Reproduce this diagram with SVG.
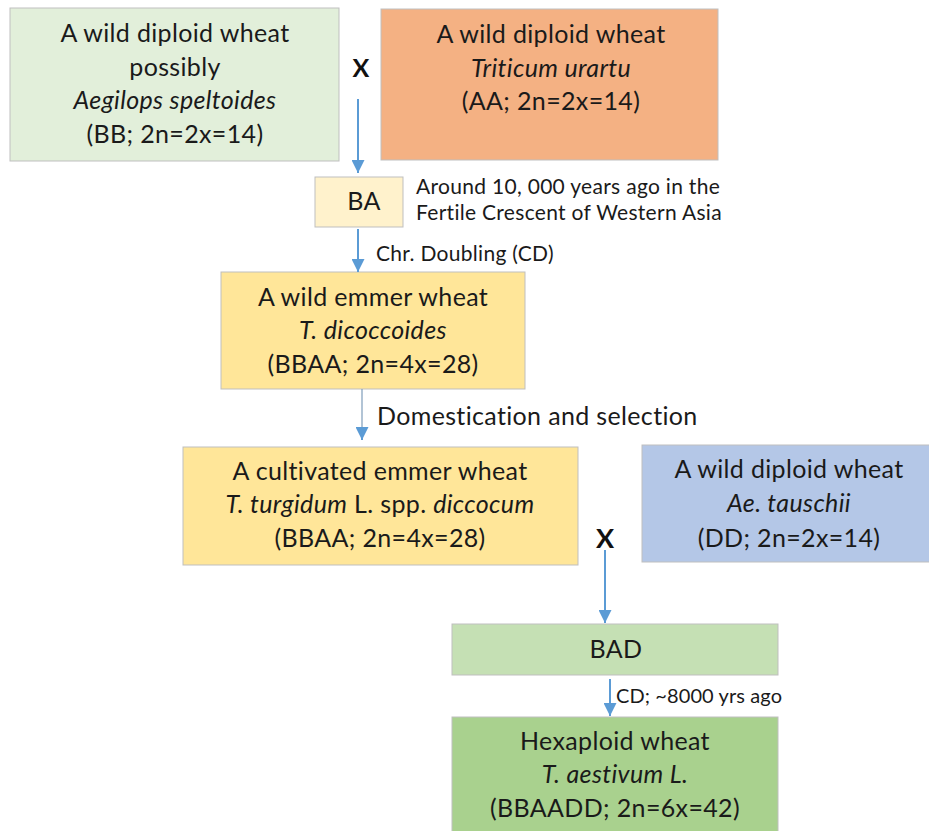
<svg xmlns="http://www.w3.org/2000/svg" width="929" height="831" viewBox="0 0 929 831">
<defs>
<marker id="ah" viewBox="0 0 10 10" refX="10" refY="5" markerWidth="13" markerHeight="13" markerUnits="userSpaceOnUse" orient="auto">
<path d="M0,0 L10,5 L0,10 Z" fill="#5B9BD5"/>
</marker>
<style>
.box{stroke:#BFBFBF;stroke-width:1}
.t{font-family:Lato,"Liberation Sans",sans-serif;font-size:25px;letter-spacing:0.35px;fill:#1a1a1a;text-anchor:middle}
.s{font-family:Lato,"Liberation Sans",sans-serif;font-size:21px;letter-spacing:0.3px;fill:#1a1a1a}
.l{font-family:Lato,"Liberation Sans",sans-serif;font-size:25px;letter-spacing:0.35px;fill:#1a1a1a}
.x{font-family:Lato,"Liberation Sans",sans-serif;font-weight:bold;fill:#111;text-anchor:middle}
.c{stroke:#5B9BD5;stroke-width:2;fill:none}
.i{font-style:italic}
</style>
</defs>
<rect width="929" height="831" fill="#FFFFFF"/>
<g id="node-speltoides">
<rect class="box" x="10" y="8" width="329" height="153" fill="#E2EFDA"/>
<text class="t" x="175" y="42">A wild diploid wheat</text>
<text class="t" x="175" y="75.5">possibly</text>
<text class="t i" x="175" y="109">Aegilops speltoides</text>
<text class="t" x="175" y="142.5">(BB; 2n=2x=14)</text>
</g>
<g id="node-urartu">
<rect class="box" x="381" y="9" width="337" height="151" fill="#F4B183"/>
<text class="t" x="551" y="43">A wild diploid wheat</text>
<text class="t i" x="551" y="77">Triticum urartu</text>
<text class="t" x="551" y="110">(AA; 2n=2x=14)</text>
</g>
<g id="cross-1"><text class="x" x="361" y="77" font-size="25">X</text></g>
<g id="node-BA">
<rect class="box" x="315" y="177" width="88" height="50" fill="#FFF2CC"/>
<text class="t" x="364" y="210">BA</text>
</g>
<g id="note-origin">
<text class="s" x="416" y="194">Around 10, 000 years ago in the</text>
<text class="s" x="416" y="220">Fertile Crescent of Western Asia</text>
</g>
<g id="node-dicoccoides">
<rect class="box" x="221" y="272" width="304" height="117" fill="#FFE699"/>
<text class="t" x="373" y="306">A wild emmer wheat</text>
<text class="t i" x="373" y="339">T. dicoccoides</text>
<text class="t" x="373" y="373">(BBAA; 2n=4x=28)</text>
</g>
<g id="node-diccocum">
<rect class="box" x="183" y="447" width="395" height="118" fill="#FFE699"/>
<text class="t" x="380" y="480">A cultivated emmer wheat</text>
<text class="t" x="380" y="513"><tspan class="i">T. turgidum</tspan> L. spp. <tspan class="i">diccocum</tspan></text>
<text class="t" x="380" y="547">(BBAA; 2n=4x=28)</text>
</g>
<g id="node-tauschii">
<rect class="box" x="642" y="445" width="300" height="117" fill="#B4C7E7"/>
<text class="t" x="789" y="478">A wild diploid wheat</text>
<text class="t i" x="789" y="512">Ae. tauschii</text>
<text class="t" x="789" y="547">(DD; 2n=2x=14)</text>
</g>
<g id="cross-2"><text class="x" x="605" y="548" font-size="27">X</text></g>
<g id="node-BAD">
<rect class="box" x="452" y="624" width="326" height="51" fill="#C5E0B4"/>
<text class="t" x="616" y="658">BAD</text>
</g>
<g id="node-aestivum">
<rect class="box" x="452" y="717" width="326" height="124" fill="#A9D18E"/>
<text class="t" x="615" y="750">Hexaploid wheat</text>
<text class="t i" x="615" y="783">T. aestivum L.</text>
<text class="t" x="615" y="817">(BBAADD; 2n=6x=42)</text>
</g>
<g id="connectors">
<line class="c" x1="358" y1="99" x2="358" y2="173" marker-end="url(#ah)"/>
<line class="c" x1="358" y1="229" x2="358" y2="272" marker-end="url(#ah)"/>
<text class="s" x="376" y="261">Chr. Doubling (CD)</text>
<line x1="362" y1="389" x2="362" y2="430" stroke="#7F9DBA" stroke-width="1.2"/>
<line class="c" x1="362" y1="428" x2="362" y2="440" marker-end="url(#ah)" stroke-width="0.1"/>
<text class="l" x="377" y="425">Domestication and selection</text>
<line class="c" x1="605" y1="550" x2="605" y2="623" marker-end="url(#ah)"/>
<line class="c" x1="610" y1="679" x2="610" y2="716" marker-end="url(#ah)"/>
<text class="s" x="616" y="703" style="font-size:20px;letter-spacing:0.1px">CD; ~8000 yrs ago</text>
</g>
</svg>
